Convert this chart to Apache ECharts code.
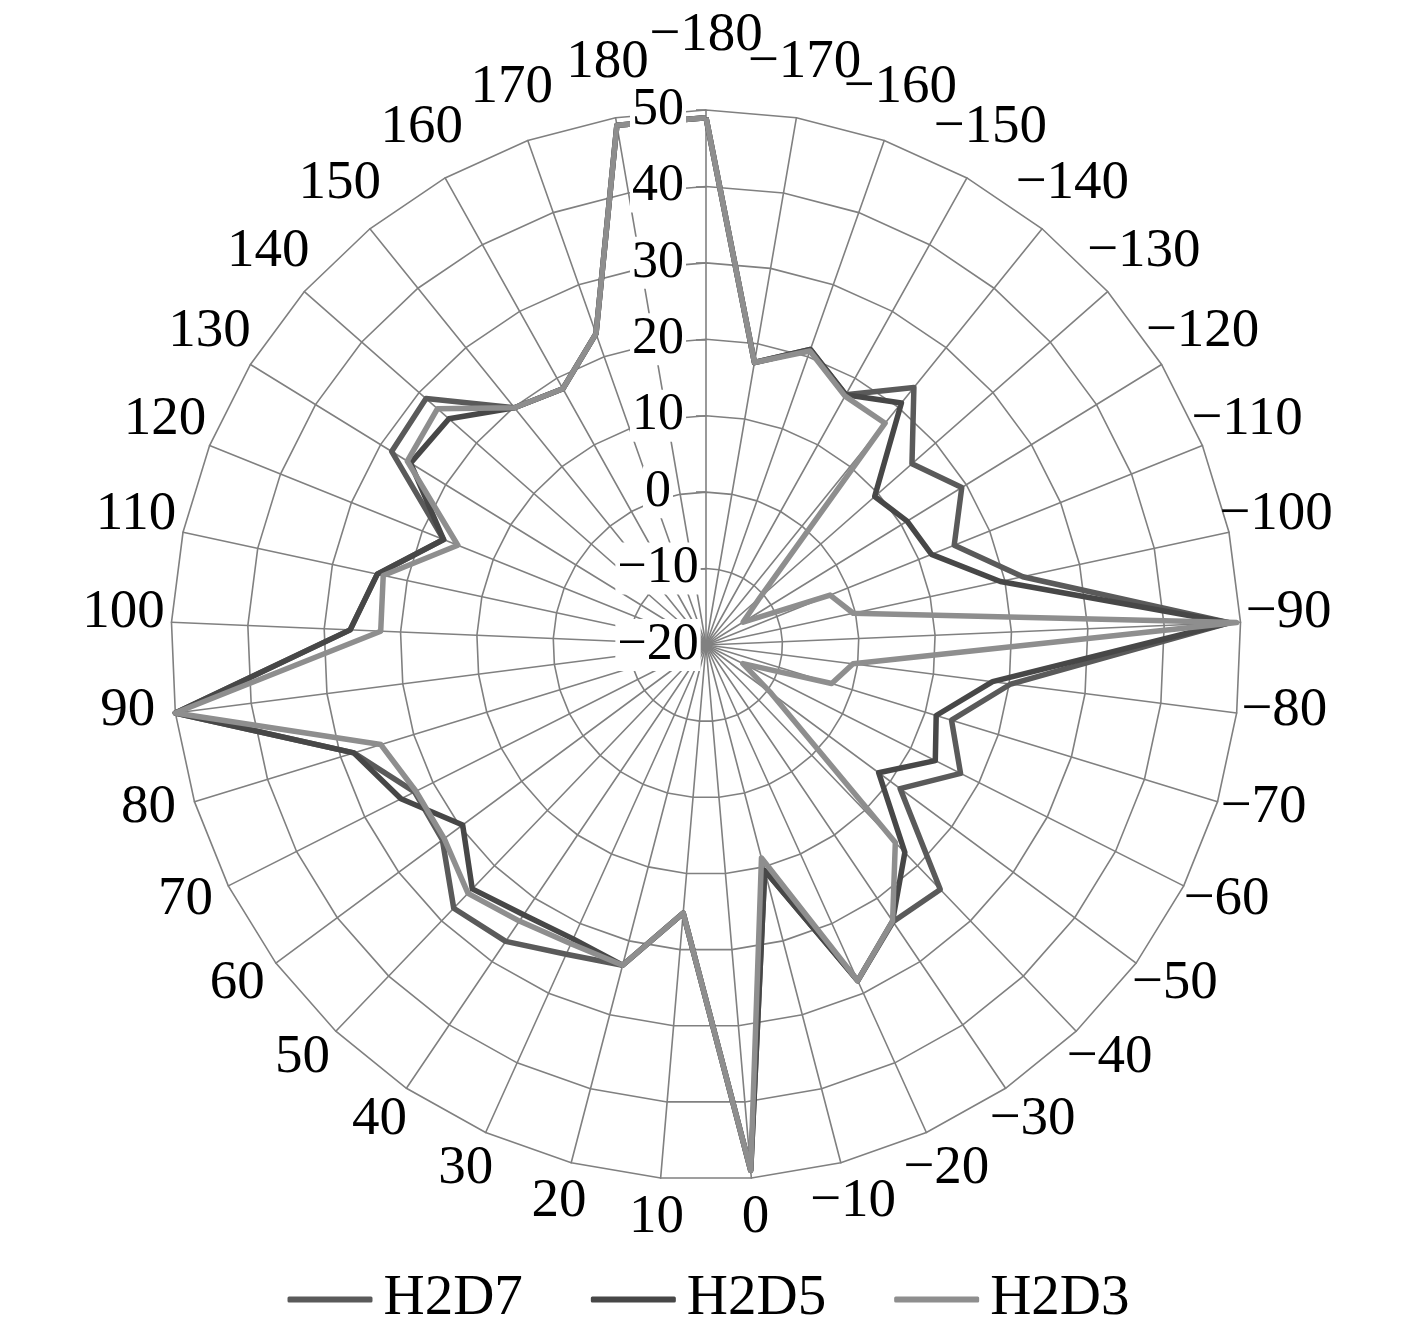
<!DOCTYPE html>
<html>
<head>
<meta charset="utf-8">
<title>H2D radar</title>
<script src="https://cdn.jsdelivr.net/npm/echarts@6/dist/echarts.min.js"></script>
<style>
  html, body { margin: 0; padding: 0; background: #fff; }
  #chart { width: 1417px; height: 1330px; }
</style>
</head>
<body>
<div id="chart"></div>
<script>
// angle categories, clockwise from the top
const categories = [-180, -170, -160, -150, -140, -130, -120, -110, -100, -90,
  -80, -70, -60, -50, -40, -30, -20, -10, 0, 10, 20, 30, 40, 50, 60, 70, 80, 90,
  100, 110, 120, 130, 140, 150, 160, 170, 180]

const h2d7 = [49, 17.5, 21, 17.5, 23.3, 15.9, 19.3, 15.0, 22.4, 48.5,
  20.2, 13.6, 17.3, 11.6, 24.3, 23.7, 28.2, 10.5, 49, 15.2, 23.3, 24.4, 26.8, 27.7, 22.9, 22.7, 28.2, 50,
  26.6, 24.0, 17.0, 28.3, 28.8, 19.9, 18.4, 23.2, 49]

const h2d5 = [49, 17.5, 21, 17.5, 20.7, 9.4, 10.9, 11.8, 19.4, 48.5,
  17.8, 11.5, 13.6, 8.1, 17.6, 23.6, 28.2, 10.5, 49, 15.2, 23.3, 22.2, 22.6, 24.2, 19.6, 24.7, 28.2, 50,
  26.6, 24.0, 17.0, 25.4, 24.8, 19.9, 18.4, 23.2, 49]

const h2d3 = [49, 17.5, 20.8, 17.3, 17.3, -10.6, -14.3, -2.5, -0.3, 49.5,
  -0.6, -2.8, -14.6, -9.4, 15.8, 23.6, 28.2, 8.8, 49, 15.2, 23.3, 22.9, 23.6, 25.0, 22.6, 22.5, 24.5, 50,
  22.6, 23.2, 15.0, 25.9, 26.8, 19.9, 18.4, 23.2, 49]

const seriesNames = ['H2D7', 'H2D5', 'H2D3']
const seriesColors = ['#5a5a5a', '#474747', '#8e8e8e']

const radialMin = -20
const radialMax = 50
const radialSplits = 7

const FONT = '"Liberation Serif", "Times New Roman", serif'
const GRID = '#808080'
const minus = s => String(s).replace('-', '\u2212')

// echarts lays radar indicators out counter-clockwise, so walk the list backwards after the first
const order = [0]
for (let i = categories.length - 1; i > 0; i--) order.push(i)
const pick = arr => order.map(i => arr[i])

// the top name (-180) sits a bit higher than the rest in the original
const gridIndicators = order.map((i, k) => {
  const ind = { name: minus(categories[i]), min: radialMin, max: radialMax }
  if (k === 0) ind.nameGap = 66
  return ind
})

// second radar only carries the value labels on the top spoke (drawn above the lines)
const labelIndicators = order.map((i, k) => ({
  name: '',
  min: radialMin,
  max: radialMax,
  axisLabel: k === 0 ? {
    show: true,
    color: '#000',
    fontFamily: FONT,
    fontSize: 52,
    margin: 48,
    align: 'center',
    backgroundColor: '#fff',
    padding: [0, 2],
    formatter: v => minus(v)
  } : { show: false },
  axisTick: k === 0 ? { show: true, length: 10, lineStyle: { color: GRID, width: 1.6 } } : { show: false }
}))

const chart = echarts.init(document.getElementById('chart'))

const dataSets = [h2d7, h2d5, h2d3]

chart.setOption({
  animation: false,
  backgroundColor: '#fff',
  legend: {
    data: seriesNames,
    left: 'center',
    top: 1266,
    icon: 'roundRect',
    itemWidth: 85,
    itemHeight: 6,
    itemGap: 68,
    textStyle: { fontFamily: FONT, fontSize: 57, color: '#000', padding: [0, 0, 0, 6] }
  },
  radar: [
    {
      center: [706, 645],
      radius: 535,
      shape: 'polygon',
      splitNumber: radialSplits,
      indicator: gridIndicators,
      axisName: {
        color: '#000',
        fontFamily: FONT,
        fontSize: 55,
        align: 'center',
        verticalAlign: 'middle',
        // empty second line lifts the names a little, like the original layout
        formatter: name => name + '\n{gap| }',
        rich: { gap: { fontSize: 10, lineHeight: 16 } }
      },
      nameGap: 48,
      axisLine: { lineStyle: { color: GRID, width: 1.6 } },
      splitLine: { lineStyle: { color: GRID, width: 1.6 } },
      splitArea: { show: false },
      axisLabel: { show: false },
      axisTick: { show: false }
    },
    {
      center: [706, 645],
      radius: 535,
      shape: 'polygon',
      splitNumber: radialSplits,
      z: 5,
      indicator: labelIndicators,
      axisName: { show: false },
      axisLine: { show: false },
      splitLine: { show: false },
      splitArea: { show: false },
      axisLabel: { show: false },
      axisTick: { show: false }
    }
  ],
  series: [{
    type: 'radar',
    radarIndex: 0,
    symbol: 'none',
    data: dataSets.map((arr, k) => ({
      name: seriesNames[k],
      value: pick(arr),
      lineStyle: { color: seriesColors[k], width: 5.5, join: 'round' },
      itemStyle: { color: seriesColors[k] }
    }))
  }]
})
</script>
</body>
</html>
